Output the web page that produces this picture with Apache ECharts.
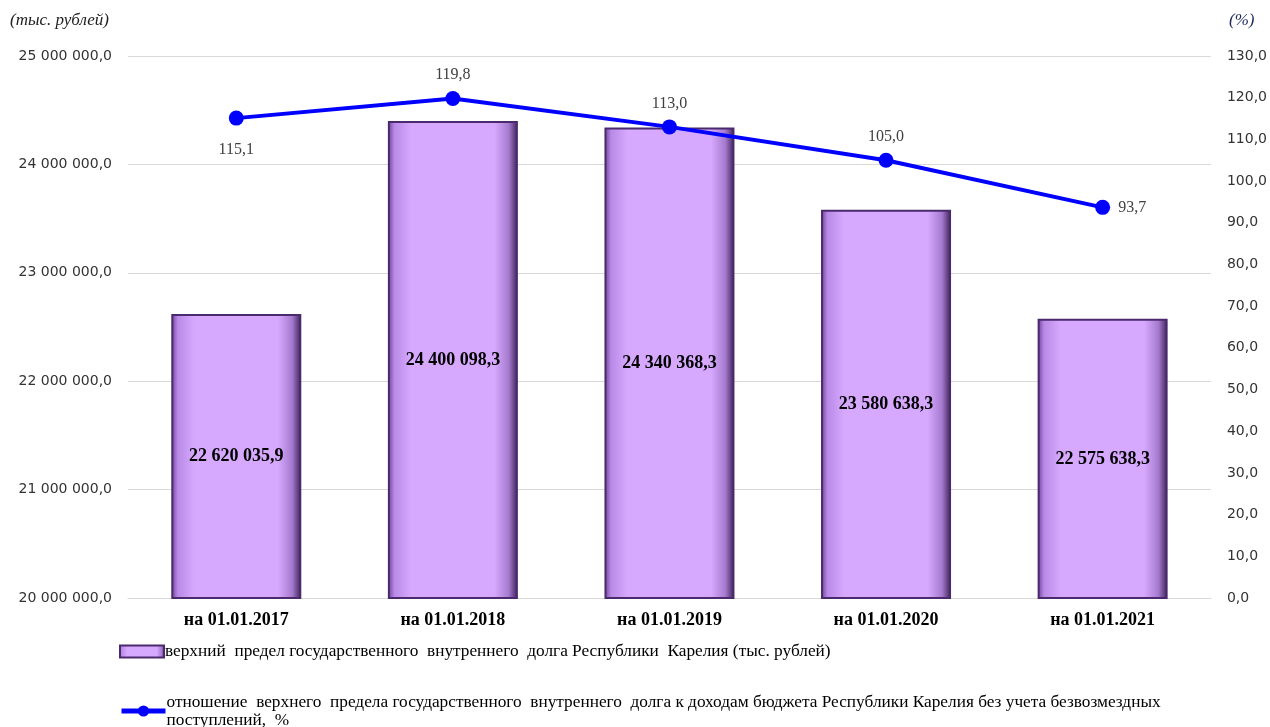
<!DOCTYPE html>
<html><head><meta charset="utf-8">
<script src="https://cdn.jsdelivr.net/npm/echarts@6/dist/echarts.min.js"></script>
<style>html,body{margin:0;padding:0;background:#fff}#c{width:1270px;height:727px}</style>
</head><body><div id="c"></div>
<script>
const categories = ['на 01.01.2017','на 01.01.2018','на 01.01.2019','на 01.01.2020','на 01.01.2021'];
const debtValues = [22620035.9, 24400098.3, 24340368.3, 23580638.3, 22575638.3];
const ratioValues = [115.1, 119.8, 113.0, 105.0, 93.7];
const debtName = 'верхний  предел государственного  внутреннего  долга Республики  Карелия (тыс. рублей)';
const ratioName = 'отношение  верхнего  предела государственного  внутреннего  долга к доходам бюджета Республики Карелия без учета безвозмездных\nпоступлений,  %';

function fmtNum(v, dec){
  const s = v.toFixed(dec);
  const parts = s.split('.');
  const intp = parts[0].replace(/\B(?=(\d{3})+(?!\d))/g, ' ');
  return parts.length > 1 ? intp + ',' + parts[1] : intp;
}
const serif = '"Liberation Serif", "Times New Roman", serif';
const sans = '"DejaVu Sans", sans-serif';
const labelPos = ['bottom','top','top','top','right'];

const chart = echarts.init(document.getElementById('c'));
chart.setOption({
  animation: false,
  backgroundColor: '#fff',
  grid: {left: 128, right: 58, top: 56, bottom: 129},
  legend: [
    {
      left: 119, top: 643, padding: 0,
      itemWidth: 44, itemHeight: 12, itemGap: 2,
      textStyle: {fontFamily: serif, fontSize: 17.3, color: '#000', padding: [0,0,0,-4]},
      data: [{name: debtName, icon: 'rect', itemStyle: {borderColor: '#4a2a6c', borderWidth: 2}}]
    },
    {
      left: 119, top: 693, padding: 0,
      itemWidth: 44, itemHeight: 14, itemGap: 2,
      textStyle: {fontFamily: serif, fontSize: 17.3, color: '#000', lineHeight: 18, padding: [0,0,0,-4]},
      data: [{name: ratioName, lineStyle: {width: 5, color: '#0000ff'}}]
    }
  ],
  graphic: [
    {type: 'text', left: 10, top: 12, style: {text: '(тыс. рублей)', font: 'italic 17px ' + serif, fill: '#222'}},
    {type: 'text', left: 1229, top: 12, style: {text: '(%)', font: 'italic 17px ' + serif, fill: '#1f2a5a'}}
  ],
  xAxis: {
    type: 'category', data: categories,
    axisLine: {lineStyle: {color: '#d9d9d9'}},
    axisTick: {show: false},
    axisLabel: {fontFamily: serif, fontWeight: 'bold', fontSize: 18, color: '#000', margin: 13}
  },
  yAxis: [
    {
      type: 'value', min: 20000000, max: 25000000, interval: 1000000,
      axisLine: {show: false}, axisTick: {show: false},
      splitLine: {lineStyle: {color: '#d9d9d9'}},
      axisLabel: {fontFamily: sans, fontSize: 14, color: '#333', margin: 16, formatter: v => fmtNum(v, 1)}
    },
    {
      type: 'value', min: 0, max: 130, interval: 10,
      axisLine: {show: false}, axisTick: {show: false}, splitLine: {show: false},
      axisLabel: {fontFamily: sans, fontSize: 14, color: '#333', margin: 16, formatter: v => fmtNum(v, 1)}
    }
  ],
  series: [
    {
      name: debtName, type: 'bar', data: debtValues, barWidth: 130, yAxisIndex: 0,
      itemStyle: {
        color: new echarts.graphic.LinearGradient(0, 0, 1, 0, [
          {offset: 0, color: '#6a3f96'},
          {offset: 0.05, color: '#b98ae6'},
          {offset: 0.18, color: '#d7a9fe'},
          {offset: 0.82, color: '#d7a9fe'},
          {offset: 0.93, color: '#a57ace'},
          {offset: 1, color: '#3a1f55'}
        ]),
        borderColor: '#4a2a6c', borderWidth: 2
      },
      label: {
        show: true, position: 'inside',
        fontFamily: serif, fontWeight: 'bold', fontSize: 18, color: '#000',
        formatter: p => fmtNum(p.value, 1)
      }
    },
    {
      name: ratioName, type: 'line', yAxisIndex: 1,
      data: ratioValues.map((v, i) => ({value: v, label: {position: labelPos[i], distance: i === 0 ? 16 : 8}})),
      symbol: 'circle', symbolSize: 15,
      lineStyle: {color: '#0000ff', width: 4},
      itemStyle: {color: '#0000ff'},
      label: {show: true, fontFamily: serif, fontSize: 16, color: '#404040', formatter: p => fmtNum(p.value, 1)}
    }
  ]
});
</script></body></html>
